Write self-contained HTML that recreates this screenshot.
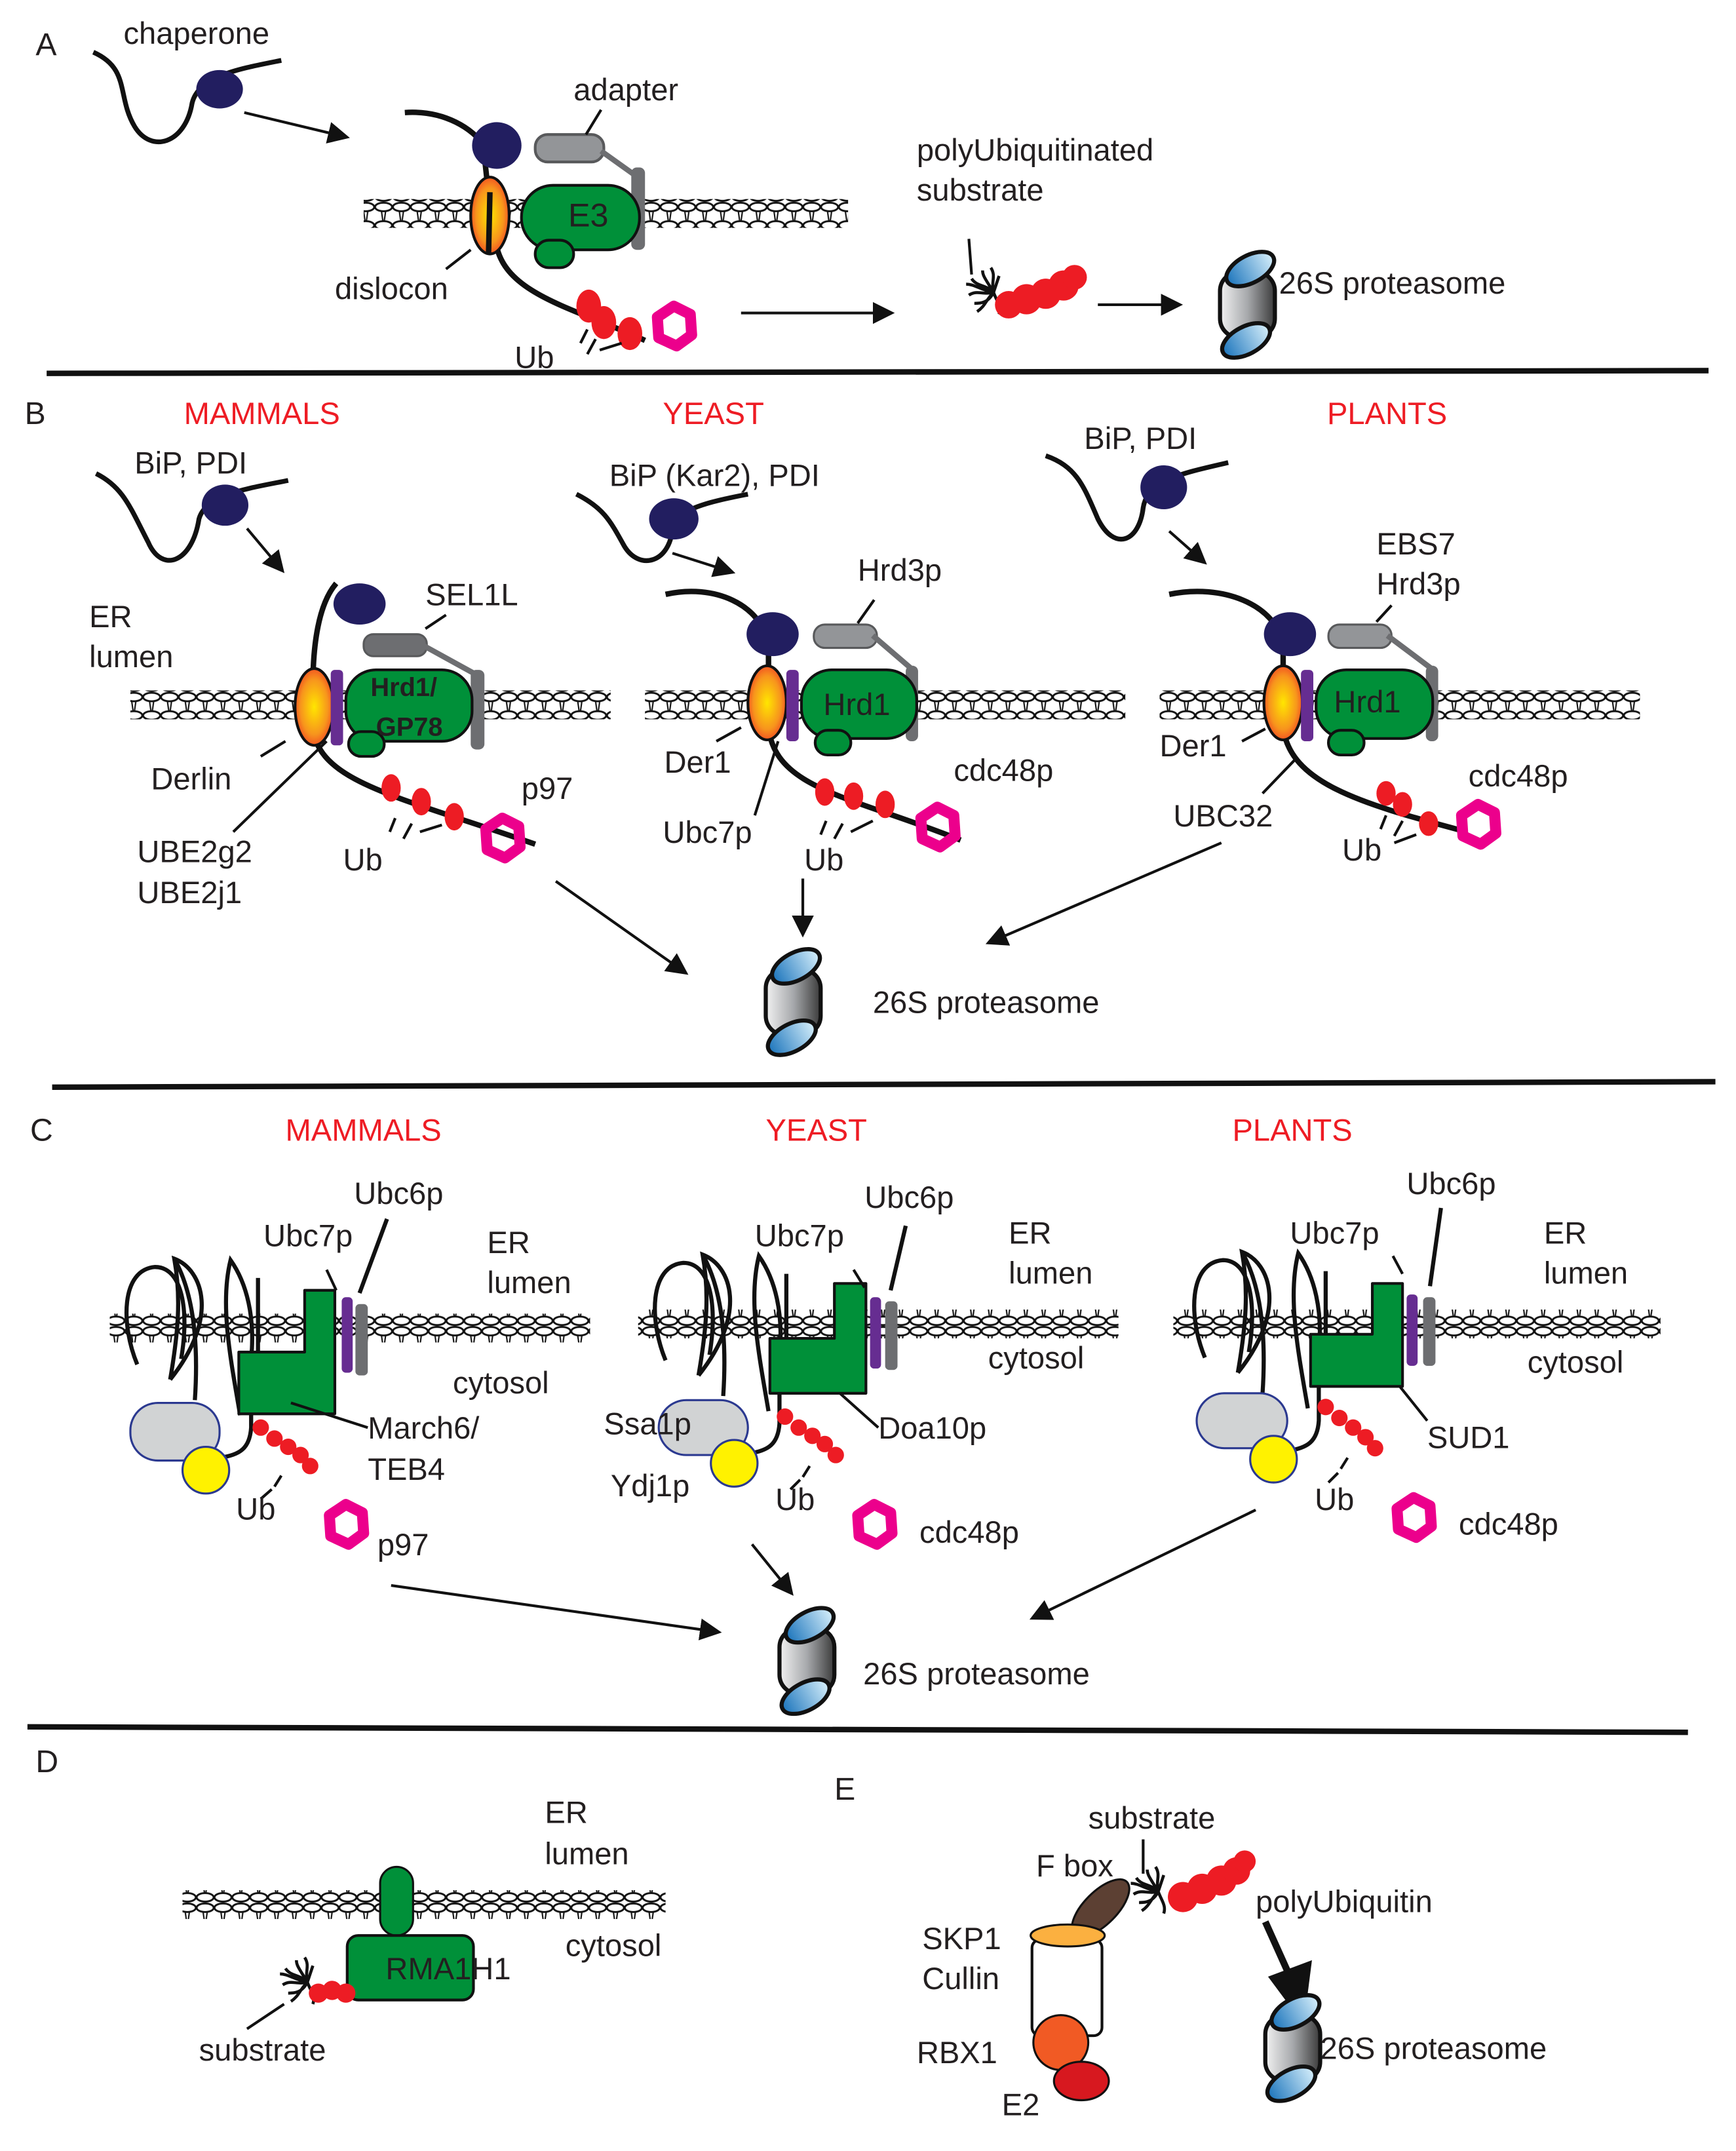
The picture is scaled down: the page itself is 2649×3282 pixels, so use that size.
<!DOCTYPE html>
<html><head><meta charset="utf-8"><style>
html,body{margin:0;padding:0;background:#fff}
svg{display:block}
text{font-family:"Liberation Sans",Arial,sans-serif;font-size:22.5px;fill:#231f20}
.r{fill:#ee1c24}
</style></head><body>
<svg width="2649" height="3282" viewBox="0 0 1265 1567" preserveAspectRatio="none" xmlns="http://www.w3.org/2000/svg">
<defs>
<pattern id="mem" width="13" height="21" patternUnits="userSpaceOnUse">
<ellipse cx="6.5" cy="3.8" rx="6.2" ry="3.1" fill="#fff" stroke="#111" stroke-width="1.4"/>
<ellipse cx="6.5" cy="17.2" rx="6.2" ry="3.1" fill="#fff" stroke="#111" stroke-width="1.4"/>
<path d="M5 7 L6 14 M8 7 L7 14" stroke="#111" stroke-width="1"/>
</pattern>
<radialGradient id="dis" cx="0.5" cy="0.5" r="0.6"><stop offset="0" stop-color="#ffe600"/><stop offset="0.6" stop-color="#f7941d"/><stop offset="1" stop-color="#ef2b24"/></radialGradient>
<linearGradient id="cyl" x1="0" x2="1"><stop offset="0" stop-color="#f2f2f2"/><stop offset="0.5" stop-color="#a7a9ac"/><stop offset="1" stop-color="#3a3a3a"/></linearGradient>
<linearGradient id="cap" x1="0" x2="1"><stop offset="0" stop-color="#1c75bc"/><stop offset="1" stop-color="#d6effb"/></linearGradient>
<g id="prot">
<rect x="-20" y="-24" width="40" height="48" rx="14" fill="url(#cyl)" stroke="#111" stroke-width="3"/>
<ellipse cx="2" cy="-26" rx="19" ry="10" transform="rotate(-28 2 -26)" fill="url(#cap)" stroke="#111" stroke-width="3"/>
<ellipse cx="-1" cy="26" rx="19" ry="10" transform="rotate(-28 -1 26)" fill="url(#cap)" stroke="#111" stroke-width="3"/>
</g>
<g id="ring"><polygon points="0,-14 12,-8 13,7 2,15 -11,9 -12,-6" fill="none" stroke="#ec008c" stroke-width="8" stroke-linejoin="round"/></g>
<g id="star" stroke="#111" stroke-width="2.2" fill="none"><path d="M0 0 C-6 -6,-12 -4,-16 -10 M0 0 C-8 2,-12 -2,-18 2 M0 0 C-6 6,-6 10,-12 14 M0 0 C-2 -8,2 -12,-2 -18 M0 0 C2 6,6 10,4 16 M0 0 C-6 -10,-8 -12,-8 -16 M0 0 C-10 -2,-14 -6,-20 -6 M0 0 C-4 8,-10 8,-14 8 M0 0 L4 -12"/></g>
<g id="loops" fill="none" stroke="#111" stroke-width="3">
<path d="M100 994 C88 965,88 925,113 923 C133 923,138 955,132 990"/>
<path d="M124 1005 C130 970,132 945,127 917 C148 925,160 960,124 1005"/>
<path d="M127 917 C140 940,145 975,142 1020"/>
<path d="M175 1031 C168 990,160 950,168 918 C180 935,186 960,183 990 L183 1040 C182 1055,175 1060,160 1062"/>
<path d="M188 931 L188 987"/>
</g>
<marker id="ah" markerWidth="8" markerHeight="8" refX="7" refY="4" orient="auto" markerUnits="strokeWidth"><path d="M0 0 L8 4 L0 8z" fill="#111"/></marker>
</defs>

<!-- ===== A ===== -->
<text x="26" y="40" style="font-size:23px">A</text>
<text x="90" y="32">chaperone</text>
<path d="M68 38 C95 50,85 70,98 92 C110 112,135 105,140 75 C145 55,175 50,205 44" fill="none" stroke="#111" stroke-width="3.5"/>
<ellipse cx="160" cy="65" rx="17" ry="14" fill="#221e60"/>
<line x1="178" y1="82" x2="253" y2="100" stroke="#111" stroke-width="2" marker-end="url(#ah)"/>
<rect x="265" y="145" width="353" height="21" fill="url(#mem)"/>
<path d="M295 82 C325 80,345 95,352 105 L358 160 L362 180 C370 215,420 225,470 248" fill="none" stroke="#111" stroke-width="4"/>
<ellipse cx="362" cy="106" rx="18" ry="17" fill="#221e60"/>
<rect x="390" y="98" width="50" height="20" rx="9" fill="#939598" stroke="#58595b" stroke-width="2"/>
<path d="M438 110 L466 130" stroke="#6d6e71" stroke-width="4"/>
<rect x="460" y="122" width="10" height="60" rx="4" fill="#6d6e71"/>
<line x1="438" y1="80" x2="427" y2="98" stroke="#111" stroke-width="2"/>
<text x="418" y="73">adapter</text>
<ellipse cx="357" cy="157" rx="14" ry="28" fill="url(#dis)" stroke="#111" stroke-width="2"/>
<line x1="357" y1="140" x2="356" y2="185" stroke="#111" stroke-width="4"/>
<rect x="380" y="135" width="86" height="47" rx="23" fill="#009039" stroke="#111" stroke-width="2"/>
<rect x="390" y="175" width="28" height="20" rx="10" fill="#009039" stroke="#111" stroke-width="2"/>
<text x="414" y="165" style="font-size:24px">E3</text>
<line x1="325" y1="196" x2="343" y2="182" stroke="#111" stroke-width="2"/>
<text x="244" y="218">dislocon</text>
<ellipse cx="429" cy="223" rx="9" ry="12" fill="#ed1c24"/>
<ellipse cx="440" cy="235" rx="9" ry="12" fill="#ed1c24"/>
<ellipse cx="459" cy="243" rx="9" ry="12" fill="#ed1c24"/>
<use href="#ring" x="491" y="237"/>
<path d="M428 240 L423 250 M434 247 L428 258 M437 255 L453 250" stroke="#111" stroke-width="2"/>
<text x="375" y="268">Ub</text>
<line x1="540" y1="228" x2="650" y2="228" stroke="#111" stroke-width="2" marker-end="url(#ah)"/>
<text x="668" y="117">polyUbiquitinated</text>
<text x="668" y="146">substrate</text>
<line x1="706" y1="174" x2="708" y2="200" stroke="#111" stroke-width="2"/>
<use href="#star" x="724" y="213"/>
<g fill="#ed1c24"><circle cx="735" cy="222" r="10"/><circle cx="748" cy="218" r="11"/><circle cx="762" cy="214" r="11"/><circle cx="775" cy="208" r="11"/><circle cx="783" cy="202" r="9"/></g>
<line x1="800" y1="222" x2="860" y2="222" stroke="#111" stroke-width="2" marker-end="url(#ah)"/>
<use href="#prot" x="909" y="222"/>
<text x="932" y="214">26S proteasome</text>
<line x1="34" y1="272" x2="1245" y2="270" stroke="#111" stroke-width="4"/>

<!-- ===== B ===== -->
<text x="18" y="309" style="font-size:23px">B</text>
<text x="134" y="309" class="r">MAMMALS</text>
<text x="483" y="309" class="r">YEAST</text>
<text x="967" y="309" class="r">PLANTS</text>
<!-- mammals -->
<text x="98" y="345">BiP, PDI</text>
<path d="M70 345 C90 355,95 370,108 395 C118 418,140 410,145 378 C150 360,180 356,210 350" fill="none" stroke="#111" stroke-width="3.5"/>
<ellipse cx="164" cy="368" rx="17" ry="15" fill="#221e60"/>
<line x1="180" y1="385" x2="206" y2="416" stroke="#111" stroke-width="2" marker-end="url(#ah)"/>
<text x="65" y="457">ER</text><text x="65" y="486">lumen</text>
<rect x="95" y="503" width="350" height="21" fill="url(#mem)"/>
<path d="M245 425 C232 440,228 470,228 500 L228 530 C232 570,290 580,390 615" fill="none" stroke="#111" stroke-width="4"/>
<ellipse cx="262" cy="440" rx="19" ry="15" fill="#221e60"/>
<rect x="265" y="462" width="46" height="16" rx="7" fill="#6d6e71" stroke="#58595b" stroke-width="1.5"/>
<path d="M308 470 L348 492" stroke="#6d6e71" stroke-width="4"/>
<rect x="343" y="488" width="10" height="58" rx="4" fill="#6d6e71"/>
<line x1="310" y1="458" x2="325" y2="448" stroke="#111" stroke-width="2"/>
<text x="310" y="441">SEL1L</text>
<ellipse cx="229" cy="515" rx="14" ry="28" fill="url(#dis)" stroke="#111" stroke-width="2"/>
<rect x="241" y="488" width="9" height="55" rx="3" fill="#662d91"/>
<rect x="252" y="488" width="92" height="52" rx="22" fill="#009039" stroke="#111" stroke-width="2"/>
<rect x="254" y="533" width="26" height="18" rx="9" fill="#009039" stroke="#111" stroke-width="2"/>
<text x="270" y="507" style="font-weight:bold;font-size:19px">Hrd1/</text>
<text x="274" y="536" style="font-weight:bold;font-size:19px">GP78</text>
<line x1="190" y1="551" x2="208" y2="540" stroke="#111" stroke-width="2"/>
<text x="110" y="575">Derlin</text>
<line x1="170" y1="606" x2="238" y2="540" stroke="#111" stroke-width="2"/>
<text x="100" y="628">UBE2g2</text><text x="100" y="658">UBE2j1</text>
<ellipse cx="285" cy="574" rx="7" ry="10" fill="#ed1c24"/>
<ellipse cx="307" cy="584" rx="7" ry="10" fill="#ed1c24"/>
<ellipse cx="331" cy="595" rx="7" ry="10" fill="#ed1c24"/>
<use href="#ring" x="366" y="610"/>
<path d="M288 596 L284 606 M300 600 L294 611 M306 606 L322 601" stroke="#111" stroke-width="2"/>
<text x="380" y="582">p97</text>
<text x="250" y="634">Ub</text>
<line x1="405" y1="642" x2="500" y2="709" stroke="#111" stroke-width="2" marker-end="url(#ah)"/>
<!-- yeast -->
<text x="444" y="354">BiP (Kar2), PDI</text>
<path d="M420 360 C440 370,445 380,455 398 C466 416,488 410,490 385 C493 370,520 365,545 360" fill="none" stroke="#111" stroke-width="3.5"/>
<ellipse cx="491" cy="378" rx="18" ry="15" fill="#221e60"/>
<line x1="490" y1="403" x2="534" y2="417" stroke="#111" stroke-width="2" marker-end="url(#ah)"/>
<rect x="470" y="503" width="350" height="21" fill="url(#mem)"/>
<path d="M485 433 C520 425,555 440,560 470 L560 530 C565 575,620 580,700 612" fill="none" stroke="#111" stroke-width="4"/>
<ellipse cx="563" cy="462" rx="19" ry="16" fill="#221e60"/>
<rect x="593" y="455" width="46" height="17" rx="8" fill="#939598" stroke="#58595b" stroke-width="1.5"/>
<path d="M636 463 L664 487" stroke="#6d6e71" stroke-width="4"/>
<rect x="660" y="485" width="9" height="55" rx="4" fill="#6d6e71"/>
<line x1="625" y1="454" x2="637" y2="437" stroke="#111" stroke-width="2"/>
<text x="625" y="423">Hrd3p</text>
<ellipse cx="559" cy="512" rx="14" ry="27" fill="url(#dis)" stroke="#111" stroke-width="2"/>
<rect x="573" y="488" width="9" height="52" rx="3" fill="#662d91"/>
<rect x="584" y="488" width="84" height="50" rx="22" fill="#009039" stroke="#111" stroke-width="2"/>
<rect x="594" y="532" width="26" height="18" rx="9" fill="#009039" stroke="#111" stroke-width="2"/>
<text x="600" y="521">Hrd1</text>
<line x1="522" y1="540" x2="540" y2="530" stroke="#111" stroke-width="2"/>
<text x="484" y="563">Der1</text>
<line x1="550" y1="594" x2="567" y2="540" stroke="#111" stroke-width="2"/>
<text x="483" y="614">Ubc7p</text>
<ellipse cx="601" cy="577" rx="7" ry="10" fill="#ed1c24"/>
<ellipse cx="622" cy="580" rx="7" ry="10" fill="#ed1c24"/>
<ellipse cx="645" cy="586" rx="7" ry="10" fill="#ed1c24"/>
<use href="#ring" x="683" y="602"/>
<path d="M602 598 L598 608 M614 600 L608 611 M620 606 L636 598" stroke="#111" stroke-width="2"/>
<text x="695" y="569">cdc48p</text>
<text x="586" y="634">Ub</text>
<line x1="585" y1="640" x2="585" y2="681" stroke="#111" stroke-width="2" marker-end="url(#ah)"/>
<!-- plants -->
<text x="790" y="327">BiP, PDI</text>
<path d="M762 332 C785 340,790 355,800 378 C812 402,830 395,833 370 C836 350,860 345,895 337" fill="none" stroke="#111" stroke-width="3.5"/>
<ellipse cx="848" cy="355" rx="17" ry="16" fill="#221e60"/>
<line x1="852" y1="387" x2="878" y2="410" stroke="#111" stroke-width="2" marker-end="url(#ah)"/>
<rect x="845" y="503" width="350" height="21" fill="url(#mem)"/>
<path d="M852 433 C890 425,930 440,935 470 L935 530 C940 570,990 585,1065 605" fill="none" stroke="#111" stroke-width="4"/>
<ellipse cx="940" cy="462" rx="19" ry="16" fill="#221e60"/>
<rect x="968" y="455" width="46" height="17" rx="8" fill="#939598" stroke="#58595b" stroke-width="1.5"/>
<path d="M1011 463 L1043 487" stroke="#6d6e71" stroke-width="4"/>
<rect x="1039" y="485" width="9" height="55" rx="4" fill="#6d6e71"/>
<line x1="1003" y1="453" x2="1014" y2="441" stroke="#111" stroke-width="2"/>
<text x="1003" y="404">EBS7</text><text x="1003" y="433">Hrd3p</text>
<ellipse cx="935" cy="512" rx="14" ry="27" fill="url(#dis)" stroke="#111" stroke-width="2"/>
<rect x="948" y="488" width="9" height="52" rx="3" fill="#662d91"/>
<rect x="959" y="488" width="85" height="50" rx="22" fill="#009039" stroke="#111" stroke-width="2"/>
<rect x="968" y="532" width="26" height="18" rx="9" fill="#009039" stroke="#111" stroke-width="2"/>
<text x="972" y="519">Hrd1</text>
<line x1="905" y1="540" x2="922" y2="531" stroke="#111" stroke-width="2"/>
<text x="845" y="551">Der1</text>
<line x1="920" y1="578" x2="945" y2="552" stroke="#111" stroke-width="2"/>
<text x="855" y="602">UBC32</text>
<ellipse cx="1010" cy="578" rx="7" ry="9" fill="#ed1c24"/>
<ellipse cx="1022" cy="586" rx="7" ry="9" fill="#ed1c24"/>
<ellipse cx="1041" cy="600" rx="7" ry="9" fill="#ed1c24"/>
<use href="#ring" x="1077" y="600"/>
<path d="M1010 594 L1006 604 M1022 598 L1016 609 M1016 614 L1032 608" stroke="#111" stroke-width="2"/>
<text x="1070" y="573">cdc48p</text>
<text x="978" y="627">Ub</text>
<line x1="890" y1="614" x2="720" y2="687" stroke="#111" stroke-width="2" marker-end="url(#ah)"/>
<use href="#prot" x="578" y="730"/>
<text x="636" y="738">26S proteasome</text>
<line x1="38" y1="792" x2="1250" y2="788" stroke="#111" stroke-width="4"/>

<!-- ===== C ===== -->
<text x="22" y="831" style="font-size:23px">C</text>
<text x="208" y="831" class="r">MAMMALS</text>
<text x="558" y="831" class="r">YEAST</text>
<text x="898" y="831" class="r">PLANTS</text>

<!-- C mammals -->
<rect x="80" y="957" width="350" height="21" fill="url(#mem)"/>
<use href="#loops" x="0" y="0"/>
<path d="M222 940 h22 v90 h-70 v-45 h48 z" fill="#009039" stroke="#111" stroke-width="2" stroke-linejoin="round"/>
<rect x="249" y="945" width="8" height="55" rx="3" fill="#662d91"/>
<rect x="259" y="950" width="9" height="52" rx="3" fill="#6d6e71"/>
<line x1="262" y1="942" x2="282" y2="888" stroke="#111" stroke-width="3"/>
<line x1="238" y1="925" x2="245" y2="940" stroke="#111" stroke-width="2"/>
<text x="258" y="877">Ubc6p</text><text x="192" y="908">Ubc7p</text>
<text x="355" y="913">ER</text><text x="355" y="942">lumen</text><text x="330" y="1015">cytosol</text>
<rect x="95" y="1022" width="65" height="42" rx="20" fill="#d1d3d4" stroke="#2b3990" stroke-width="1.5"/>
<circle cx="150" cy="1071" r="17" fill="#fff200" stroke="#2b3990" stroke-width="1.5"/>
<g fill="#ed1c24"><circle cx="190" cy="1040" r="6"/><circle cx="200" cy="1048" r="6"/><circle cx="210" cy="1054" r="6"/><circle cx="219" cy="1060" r="6"/><circle cx="226" cy="1068" r="6"/></g>
<line x1="212" y1="1022" x2="268" y2="1040" stroke="#111" stroke-width="2"/>
<text x="268" y="1048">March6/</text><text x="268" y="1078">TEB4</text>
<path d="M205 1075 L200 1083 M198 1085 L190 1092" stroke="#111" stroke-width="2"/>
<text x="172" y="1107">Ub</text>
<use href="#ring" x="252" y="1110"/>
<text x="275" y="1133">p97</text>
<line x1="285" y1="1155" x2="524" y2="1189" stroke="#111" stroke-width="2" marker-end="url(#ah)"/>

<!-- C yeast -->
<rect x="465" y="954" width="350" height="21" fill="url(#mem)"/>
<use href="#loops" x="385" y="-3"/>
<path d="M608 935 h23 v80 h-70 v-40 h47 z" fill="#009039" stroke="#111" stroke-width="2" stroke-linejoin="round"/>
<rect x="634" y="945" width="8" height="52" rx="3" fill="#662d91"/>
<rect x="645" y="948" width="9" height="50" rx="3" fill="#6d6e71"/>
<line x1="649" y1="940" x2="660" y2="893" stroke="#111" stroke-width="3"/>
<line x1="622" y1="925" x2="630" y2="938" stroke="#111" stroke-width="2"/>
<text x="630" y="880">Ubc6p</text><text x="550" y="908">Ubc7p</text>
<text x="735" y="906">ER</text><text x="735" y="935">lumen</text><text x="720" y="997">cytosol</text>
<rect x="480" y="1020" width="65" height="40" rx="20" fill="#d1d3d4" stroke="#2b3990" stroke-width="1.5"/>
<circle cx="535" cy="1066" r="17" fill="#fff200" stroke="#2b3990" stroke-width="1.5"/>
<g fill="#ed1c24"><circle cx="572" cy="1032" r="6"/><circle cx="582" cy="1040" r="6"/><circle cx="592" cy="1046" r="6"/><circle cx="601" cy="1052" r="6"/><circle cx="609" cy="1060" r="6"/></g>
<line x1="612" y1="1015" x2="640" y2="1040" stroke="#111" stroke-width="2"/>
<text x="640" y="1048">Doa10p</text>
<text x="440" y="1045">Ssa1p</text><text x="445" y="1090">Ydj1p</text>
<path d="M590 1068 L585 1076 M583 1078 L576 1085" stroke="#111" stroke-width="2"/>
<text x="565" y="1100">Ub</text>
<use href="#ring" x="637" y="1110"/>
<text x="670" y="1124">cdc48p</text>
<line x1="548" y1="1125" x2="577" y2="1161" stroke="#111" stroke-width="2" marker-end="url(#ah)"/>

<!-- C plants -->
<rect x="855" y="954" width="355" height="21" fill="url(#mem)"/>
<use href="#loops" x="778" y="-5"/>
<path d="M1000 935 h22 v75 h-67 v-38 h45 z" fill="#009039" stroke="#111" stroke-width="2" stroke-linejoin="round"/>
<rect x="1025" y="943" width="8" height="52" rx="3" fill="#662d91"/>
<rect x="1037" y="945" width="9" height="50" rx="3" fill="#6d6e71"/>
<line x1="1042" y1="937" x2="1050" y2="880" stroke="#111" stroke-width="3"/>
<line x1="1015" y1="915" x2="1022" y2="928" stroke="#111" stroke-width="2"/>
<text x="1025" y="870">Ubc6p</text><text x="940" y="906">Ubc7p</text>
<text x="1125" y="906">ER</text><text x="1125" y="935">lumen</text><text x="1113" y="1000">cytosol</text>
<rect x="872" y="1015" width="66" height="40" rx="20" fill="#d1d3d4" stroke="#2b3990" stroke-width="1.5"/>
<circle cx="928" cy="1063" r="17" fill="#fff200" stroke="#2b3990" stroke-width="1.5"/>
<g fill="#ed1c24"><circle cx="966" cy="1025" r="6"/><circle cx="976" cy="1033" r="6"/><circle cx="986" cy="1040" r="6"/><circle cx="995" cy="1047" r="6"/><circle cx="1002" cy="1055" r="6"/></g>
<line x1="1020" y1="1010" x2="1040" y2="1035" stroke="#111" stroke-width="2"/>
<text x="1040" y="1055">SUD1</text>
<path d="M982 1062 L977 1070 M975 1073 L968 1080" stroke="#111" stroke-width="2"/>
<text x="958" y="1100">Ub</text>
<use href="#ring" x="1030" y="1105"/>
<text x="1063" y="1118">cdc48p</text>
<line x1="915" y1="1100" x2="752" y2="1179" stroke="#111" stroke-width="2" marker-end="url(#ah)"/>
<use href="#prot" x="588" y="1210"/>
<text x="629" y="1227">26S proteasome</text>
<line x1="20" y1="1258" x2="1230" y2="1262" stroke="#111" stroke-width="4"/>

<!-- ===== D ===== -->
<text x="26" y="1291" style="font-size:23px">D</text>
<rect x="133" y="1377" width="352" height="21" fill="url(#mem)"/>
<rect x="277" y="1360" width="24" height="50" rx="12" fill="#009039" stroke="#111" stroke-width="1.5"/>
<rect x="253" y="1410" width="92" height="47" rx="8" fill="#009039" stroke="#111" stroke-width="2"/>
<text x="281" y="1442">RMA1H1</text>
<text x="397" y="1328">ER</text><text x="397" y="1358">lumen</text><text x="412" y="1425">cytosol</text>
<use href="#star" x="224" y="1444"/>
<g fill="#ed1c24"><circle cx="232" cy="1452" r="7"/><circle cx="242" cy="1450" r="7"/><circle cx="252" cy="1452" r="7"/></g>
<line x1="180" y1="1478" x2="207" y2="1460" stroke="#111" stroke-width="2"/>
<text x="145" y="1501">substrate</text>

<!-- ===== E ===== -->
<text x="608" y="1311" style="font-size:23px">E</text>
<text x="793" y="1332">substrate</text>
<text x="755" y="1367">F box</text>
<ellipse cx="802" cy="1390" rx="12" ry="27" transform="rotate(45 802 1390)" fill="#5c4033" stroke="#111" stroke-width="1.5"/>
<line x1="833" y1="1340" x2="833" y2="1365" stroke="#111" stroke-width="2"/>
<use href="#star" x="844" y="1378"/>
<g fill="#ed1c24"><circle cx="862" cy="1382" r="11"/><circle cx="876" cy="1376" r="11"/><circle cx="890" cy="1370" r="11"/><circle cx="901" cy="1363" r="10"/><circle cx="907" cy="1356" r="8"/></g>
<text x="915" y="1393">polyUbiquitin</text>
<line x1="922" y1="1400" x2="940" y2="1440" stroke="#111" stroke-width="5"/>
<path d="M924 1440 L956 1428 L950 1475 Z" fill="#111"/>
<rect x="752" y="1413" width="51" height="70" rx="6" fill="#fff" stroke="#111" stroke-width="2"/>
<ellipse cx="778" cy="1410" rx="27" ry="8" fill="#fbb040" stroke="#111" stroke-width="1.5"/>
<circle cx="773" cy="1488" r="20" fill="#f15a24" stroke="#111" stroke-width="1.5"/>
<ellipse cx="788" cy="1516" rx="20" ry="14" fill="#d7181f" stroke="#111" stroke-width="1.5"/>
<text x="672" y="1420">SKP1</text><text x="672" y="1449">Cullin</text>
<text x="668" y="1503">RBX1</text><text x="730" y="1541">E2</text>
<use href="#prot" x="942" y="1492"/>
<text x="962" y="1500">26S proteasome</text>
</svg>
</body></html>
